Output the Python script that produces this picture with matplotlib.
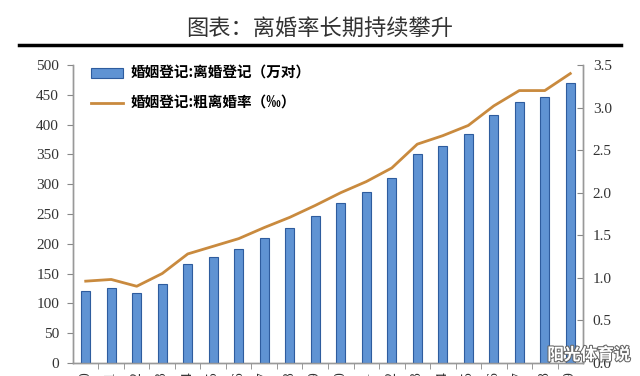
import matplotlib.pyplot as plt
import matplotlib.patheffects as pe
import numpy as np

plt.rcParams['font.family'] = ['Liberation Serif', 'Noto Sans CJK SC', 'DejaVu Sans']

# Data (2000-2019)
years = [str(y) for y in range(2000, 2020)]
divorces = [121.3, 125.1, 117.7, 133.0, 166.5, 178.5, 191.3, 209.8, 226.9, 246.8,
            267.8, 287.4, 310.4, 350.0, 363.7, 384.1, 415.8, 437.4, 446.1, 470.1]
crude_rate = [0.96, 0.98, 0.90, 1.05, 1.28, 1.37, 1.46, 1.59, 1.71, 1.85,
              2.00, 2.13, 2.29, 2.57, 2.67, 2.79, 3.02, 3.20, 3.20, 3.40]

fig = plt.figure(figsize=(6.4, 3.76), dpi=100)
ax = fig.add_axes([0.114, 0.035, 0.797, 0.792])
ax2 = ax.twinx()

x = np.arange(len(years))
bars = ax.bar(x, divorces, width=0.36, color='#5F93D3', edgecolor='#2E5C9E',
              linewidth=0.8, label='婚姻登记:离婚登记（万对）', zorder=2)
line, = ax2.plot(x, crude_rate, color='#C98A3E', linewidth=2,
                 label='婚姻登记:粗离婚率（‰）', zorder=3)

ax.set_xlim(-0.5, len(years) - 0.5)
ax.set_ylim(0, 500)
ax.set_yticks(range(0, 501, 50))
ax2.set_ylim(0, 3.5)
ax2.set_yticks(np.arange(0, 3.51, 0.5))
ax2.set_yticklabels([f'{v:.1f}' for v in np.arange(0, 3.51, 0.5)])

ax.set_xticks(x)
ax.set_xticklabels(years, rotation=90, va='top')
ax.set_xticks(x[:-1] + 0.5, minor=True)
ax.tick_params(axis='x', which='major', length=0, pad=6, labelsize=10, colors='#333333')
ax.tick_params(axis='x', which='minor', length=4, color='#888888', direction='out')
ax.tick_params(axis='y', length=4, color='#888888', labelsize=11, labelcolor='#333333', pad=6)
ax2.tick_params(axis='y', length=4, color='#888888', labelsize=11, labelcolor='#333333',
                direction='in', pad=7)

for a in (ax, ax2):
    a.spines['top'].set_visible(False)
    for s in ('left', 'right', 'bottom'):
        a.spines[s].set_color('#999999')
        a.spines[s].set_linewidth(1)
ax.set_zorder(ax2.get_zorder() + 1)
ax.patch.set_visible(False)

ax.legend([bars, line], [bars.get_label(), line.get_label()], loc='upper left',
          bbox_to_anchor=(0.01, 1.045), frameon=False,
          prop={'family': ['Noto Sans CJK SC', 'DejaVu Sans'], 'weight': 'bold', 'size': 10.5},
          handlelength=2.2, handletextpad=0.5, labelspacing=0.95)

# title and rule
fig.text(0.5, 0.925, '图表：离婚率长期持续攀升', ha='center', va='center', fontsize=16,
         color='#333333', family=['Noto Sans CJK SC', 'DejaVu Sans'])
fig.add_artist(plt.Line2D([0.03, 0.97], [0.88, 0.88], color='black', linewidth=2.5))

# watermark
fig.text(0.985, 0.056, '阳光体育说', ha='right', va='center', fontsize=12, color='white',
         family=['Noto Sans CJK SC', 'DejaVu Sans'], fontweight='bold',
         path_effects=[pe.withStroke(linewidth=1.5, foreground='#666666')])

fig.savefig('out.png', dpi=100)
